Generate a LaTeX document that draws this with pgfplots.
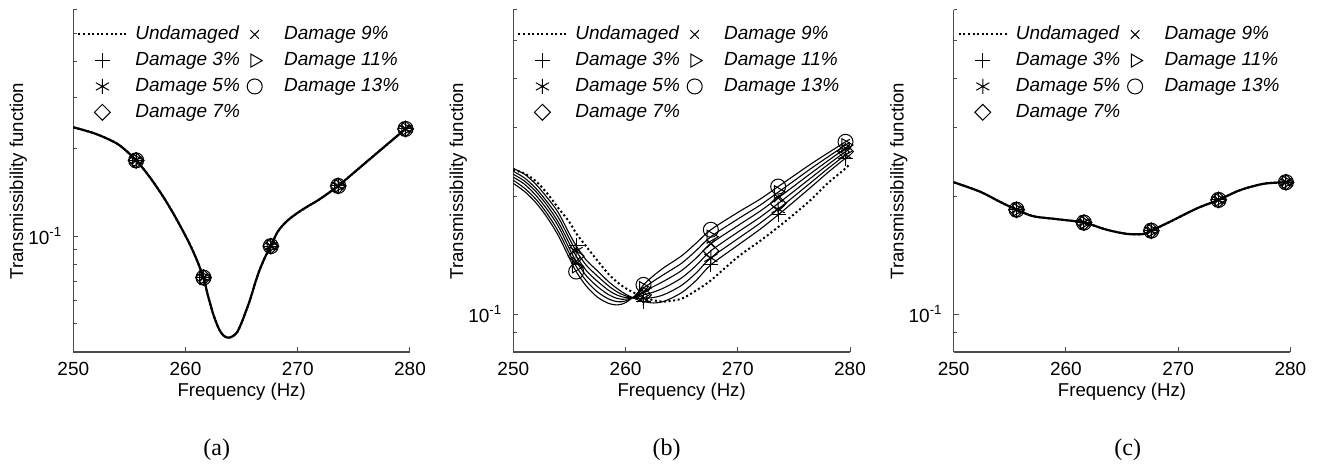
\documentclass[border=0pt]{standalone}
\usepackage{fontspec}
\setmainfont{Liberation Sans}
\newfontfamily\capfont{Liberation Serif}
\usepackage{pgfplots}
\usepackage{pgfplotstable}
\pgfplotsset{compat=1.18}

% ---------- panel (a) ----------
\pgfplotstableread{
f v
250 0.237
252 0.225
254 0.207
255.6 0.1824
256.8 0.160
258 0.137
258.9 0.120
259.7 0.1055
260.4 0.0935
261 0.0830
261.6 0.0721
262 0.0625
262.5 0.0535
263 0.0478
263.4 0.0455
263.8 0.0448
264.2 0.0453
264.6 0.0468
265 0.0505
265.4 0.0555
265.75 0.0605
266.2 0.0690
266.6 0.0766
267.1 0.0850
267.6 0.0925
268.2 0.1035
269 0.1125
270 0.1205
271 0.1275
272 0.1345
273.6 0.1490
275 0.1655
277 0.1925
279.6 0.2340
280 0.2400
}\curveA
\pgfplotstableread{
f v
255.6 0.1824
261.6 0.0721
267.6 0.0925
273.6 0.1490
279.6 0.2340
}\marksA

% ---------- panel (b) ----------
\pgfplotstableread{
f U d3 d5 d7 d9 d11 d13
250 0.234 0.236 0.232 0.228 0.224 0.220 0.216
251 0.229 0.228 0.223 0.219 0.215 0.210 0.206
252 0.219 0.215 0.210 0.206 0.2015 0.197 0.193
253 0.204 0.199 0.194 0.190 0.1855 0.181 0.177
254 0.187 0.182 0.177 0.172 0.168 0.163 0.159
255 0.172 0.1605 0.156 0.1515 0.147 0.143 0.139
255.6 0.161 0.1496 0.1451 0.1408 0.1366 0.1325 0.1285
256.5 0.149 0.1375 0.1334 0.1293 0.1254 0.1217 0.118
257.5 0.137 0.129 0.1251 0.1213 0.1176 0.1140 0.1105
258.5 0.1265 0.121 0.1180 0.1150 0.1121 0.1093 0.1065
259.3 0.1205 0.116 0.1138 0.1117 0.1096 0.1076 0.1056
260 0.1165 0.1125 0.1114 0.1103 0.1092 0.1081 0.107
261 0.1125 0.109 0.1097 0.1104 0.1111 0.1118 0.1125
261.6 0.1105 0.1077 0.1098 0.1120 0.1142 0.1165 0.1188
262.5 0.1085 0.1068 0.1103 0.1139 0.1177 0.1215 0.1255
263.5 0.1077 0.108 0.1124 0.1170 0.1218 0.1268 0.132
265 0.1095 0.1135 0.1185 0.1238 0.1293 0.1350 0.141
266.3 0.1150 0.122 0.1275 0.1332 0.1392 0.1455 0.152
267.6 0.1220 0.1337 0.1393 0.1452 0.1514 0.1578 0.1644
270 0.1400 0.150 0.1559 0.1621 0.1684 0.1751 0.182
272 0.1540 0.165 0.1710 0.1771 0.1835 0.1901 0.197
273.6 0.1670 0.1795 0.1856 0.1919 0.1984 0.2051 0.212
275 0.180 0.194 0.2000 0.2062 0.2126 0.2192 0.226
276.5 0.196 0.211 0.2169 0.2229 0.2291 0.2355 0.242
278 0.216 0.230 0.2353 0.2408 0.2464 0.2521 0.258
279.6 0.236 0.2506 0.2555 0.2605 0.2656 0.2707 0.276
280 0.243 0.255 0.2598 0.2647 0.2697 0.2748 0.280
}\curveB
\pgfplotstableread{
f d3 d5 d7 d9 d11 d13
255.6 0.1496 0.1451 0.1408 0.1366 0.1325 0.1285
261.6 0.1077 0.1098 0.1120 0.1142 0.1165 0.1188
267.6 0.1337 0.1393 0.1452 0.1514 0.1578 0.1644
273.6 0.1795 0.1856 0.1919 0.1984 0.2051 0.2120
279.6 0.2506 0.2555 0.2605 0.2656 0.2707 0.2760
}\marksB

% ---------- panel (c) ----------
\pgfplotstableread{
f v
250 0.2175
252.3 0.2060
254.1 0.1940
255.6 0.1850
257.1 0.1780
259.2 0.1750
261.6 0.1715
263.6 0.1645
265.4 0.1605
266.9 0.1603
267.6 0.1635
269.3 0.1725
271.7 0.1866
273.6 0.1960
275.5 0.2075
277.6 0.2155
279.6 0.2175
280 0.2178
}\curveC
\pgfplotstableread{
f v
255.6 0.1850
261.6 0.1715
267.6 0.1635
273.6 0.1960
279.6 0.2175
}\marksC

\pgfplotsset{
  tfaxis/.style={
    scale only axis, width=168.35pt, height=171pt,
    xmin=250, xmax=280,
    axis x line*=bottom, axis y line*=left,
    axis line style={black!70, line width=0.6pt, -},
    tick style={black!70, line width=0.5pt},
    tick align=inside, major tick length=2.5pt, minor tick length=1.6pt,
    xtick={250,260,270,280}, xticklabels={250,260,270,280},
    ytick={0.1}, yticklabels={10\textsuperscript{-1}},
    tick label style={font=\fontsize{9.5}{11}\selectfont, black},
    xticklabel style={yshift=-1.75pt},
    yticklabel style={xshift=-2pt},
    xlabel={Frequency (Hz)}, ylabel={Transmissibility function},
    label style={font=\fontsize{9.3}{11}\selectfont},
    xlabel style={at={(axis description cs:0.5,-0.117)}, anchor=center},
    ylabel style={at={(axis description cs:-0.1634,0.5)}, anchor=center},
    legend columns=2, legend cell align=left,
    legend style={draw=none, fill=none, at={(axis description cs:0,1)},
      anchor=north west, xshift=1.85pt, yshift=-7.85pt,
      inner xsep=0pt, inner ysep=0pt, nodes={inner sep=0pt},
      row sep=4.8pt, column sep=0pt,
      font=\fontsize{9.5}{11}\selectfont\itshape},
  },
  tflegA/.style={legend image code/.code={\path[draw=none] (0pt,0pt) -- (28.5pt,0pt); \draw[##1] plot[only marks] coordinates {(12pt,0pt)};}},
  tflegB/.style={legend image code/.code={\path[draw=none] (-7.4pt,0pt) -- (14.7pt,0pt); \draw[##1] plot[only marks] coordinates {(0pt,0pt)};}},
  tflegL/.style={legend image code/.code={\path[draw=none] (0pt,0pt) -- (28.5pt,0pt); \draw[##1] (0pt,0pt) -- (24pt,0pt);}},
}

\begin{document}
\begin{tikzpicture}
\useasboundingbox (0,0) rectangle (658.5pt,234.5pt);

% ===== (a) =====
\begin{axis}[tfaxis, ymode=log, at={(36.65pt,58.5pt)}, anchor=south west, ymin=0.04, ymax=0.6,
  minor ytick={0.04,0.05,0.06,0.07,0.08,0.09,0.2,0.3,0.4,0.5,0.6}]
\addplot[black, line width=1pt, dash pattern=on 1pt off 1.3pt, smooth, tension=0.5, tflegL] table[x=f,y=v]{\curveA}; \addlegendentry{\makebox[52.25pt][l]{Undamaged}}
\addplot[black, line width=1.1pt, smooth, tension=0.5, forget plot] table[x=f,y=v]{\curveA};
\addplot[only marks, black, line width=0.5pt, mark=x, mark size=3pt, tflegB] table[x=f,y=v]{\marksA}; \addlegendentry{Damage 9\%}
\addplot[only marks, black, line width=0.5pt, mark=+, mark size=3.75pt, tflegA] table[x=f,y=v]{\marksA}; \addlegendentry{\makebox[52.25pt][l]{Damage 3\%}}
\addplot[only marks, black, line width=0.5pt, mark=triangle, mark size=3.75pt, mark options={rotate=-90}, tflegB] table[x=f,y=v]{\marksA}; \addlegendentry{Damage 11\%}
\addplot[only marks, black, line width=0.5pt, mark=asterisk, mark size=3.75pt, tflegA] table[x=f,y=v]{\marksA}; \addlegendentry{\makebox[52.25pt][l]{Damage 5\%}}
\addplot[only marks, black, line width=0.5pt, mark=o, mark size=3.75pt, tflegB] table[x=f,y=v]{\marksA}; \addlegendentry{Damage 13\%}
\addplot[only marks, black, line width=0.5pt, mark=square, mark size=2.8pt, mark options={rotate=45}, tflegA] table[x=f,y=v]{\marksA}; \addlegendentry{\makebox[52.25pt][l]{Damage 7\%}}
\end{axis}

% ===== (b) =====
\begin{axis}[tfaxis, ymode=log, at={(256.65pt,58.5pt)}, anchor=south west, ymin=0.08, ymax=0.6,
  minor ytick={0.08,0.09,0.2,0.3,0.4,0.5,0.6}]
\addplot[black, line width=1pt, dash pattern=on 1pt off 1.3pt, smooth, tension=0.5, tflegL] table[x=f,y=U]{\curveB}; \addlegendentry{\makebox[52.25pt][l]{Undamaged}}
\addplot[black, line width=0.55pt, smooth, tension=0.5, forget plot] table[x=f,y=d3]{\curveB};
\addplot[black, line width=0.55pt, smooth, tension=0.5, forget plot] table[x=f,y=d5]{\curveB};
\addplot[black, line width=0.55pt, smooth, tension=0.5, forget plot] table[x=f,y=d7]{\curveB};
\addplot[black, line width=0.55pt, smooth, tension=0.5, forget plot] table[x=f,y=d9]{\curveB};
\addplot[black, line width=0.55pt, smooth, tension=0.5, forget plot] table[x=f,y=d11]{\curveB};
\addplot[black, line width=0.55pt, smooth, tension=0.5, forget plot] table[x=f,y=d13]{\curveB};
\addplot[only marks, black, line width=0.5pt, mark=x, mark size=3pt, tflegB] table[x=f,y=d9]{\marksB}; \addlegendentry{Damage 9\%}
\addplot[only marks, black, line width=0.5pt, mark=+, mark size=3.75pt, tflegA] table[x=f,y=d3]{\marksB}; \addlegendentry{\makebox[52.25pt][l]{Damage 3\%}}
\addplot[only marks, black, line width=0.5pt, mark=triangle, mark size=3.75pt, mark options={rotate=-90}, tflegB] table[x=f,y=d11]{\marksB}; \addlegendentry{Damage 11\%}
\addplot[only marks, black, line width=0.5pt, mark=asterisk, mark size=3.75pt, tflegA] table[x=f,y=d5]{\marksB}; \addlegendentry{\makebox[52.25pt][l]{Damage 5\%}}
\addplot[only marks, black, line width=0.5pt, mark=o, mark size=3.75pt, tflegB] table[x=f,y=d13]{\marksB}; \addlegendentry{Damage 13\%}
\addplot[only marks, black, line width=0.5pt, mark=square, mark size=2.8pt, mark options={rotate=45}, tflegA] table[x=f,y=d7]{\marksB}; \addlegendentry{\makebox[52.25pt][l]{Damage 7\%}}
\end{axis}

% ===== (c) =====
\begin{axis}[tfaxis, ymode=log, at={(476.85pt,58.5pt)}, anchor=south west, ymin=0.08, ymax=0.6,
  minor ytick={0.08,0.09,0.2,0.3,0.4,0.5,0.6}]
\addplot[black, line width=1pt, dash pattern=on 1pt off 1.3pt, smooth, tension=0.5, tflegL] table[x=f,y=v]{\curveC}; \addlegendentry{\makebox[52.25pt][l]{Undamaged}}
\addplot[black, line width=1.1pt, smooth, tension=0.5, forget plot] table[x=f,y=v]{\curveC};
\addplot[only marks, black, line width=0.5pt, mark=x, mark size=3pt, tflegB] table[x=f,y=v]{\marksC}; \addlegendentry{Damage 9\%}
\addplot[only marks, black, line width=0.5pt, mark=+, mark size=3.75pt, tflegA] table[x=f,y=v]{\marksC}; \addlegendentry{\makebox[52.25pt][l]{Damage 3\%}}
\addplot[only marks, black, line width=0.5pt, mark=triangle, mark size=3.75pt, mark options={rotate=-90}, tflegB] table[x=f,y=v]{\marksC}; \addlegendentry{Damage 11\%}
\addplot[only marks, black, line width=0.5pt, mark=asterisk, mark size=3.75pt, tflegA] table[x=f,y=v]{\marksC}; \addlegendentry{\makebox[52.25pt][l]{Damage 5\%}}
\addplot[only marks, black, line width=0.5pt, mark=o, mark size=3.75pt, tflegB] table[x=f,y=v]{\marksC}; \addlegendentry{Damage 13\%}
\addplot[only marks, black, line width=0.5pt, mark=square, mark size=2.8pt, mark options={rotate=45}, tflegA] table[x=f,y=v]{\marksC}; \addlegendentry{\makebox[52.25pt][l]{Damage 7\%}}
\end{axis}

\node[font=\capfont\fontsize{12}{14}\selectfont] at (108.35pt,9.5pt) {(a)};
\node[font=\capfont\fontsize{12}{14}\selectfont] at (333.35pt,9.5pt) {(b)};
\node[font=\capfont\fontsize{12}{14}\selectfont] at (563.85pt,9.5pt) {(c)};
\end{tikzpicture}
\end{document}
